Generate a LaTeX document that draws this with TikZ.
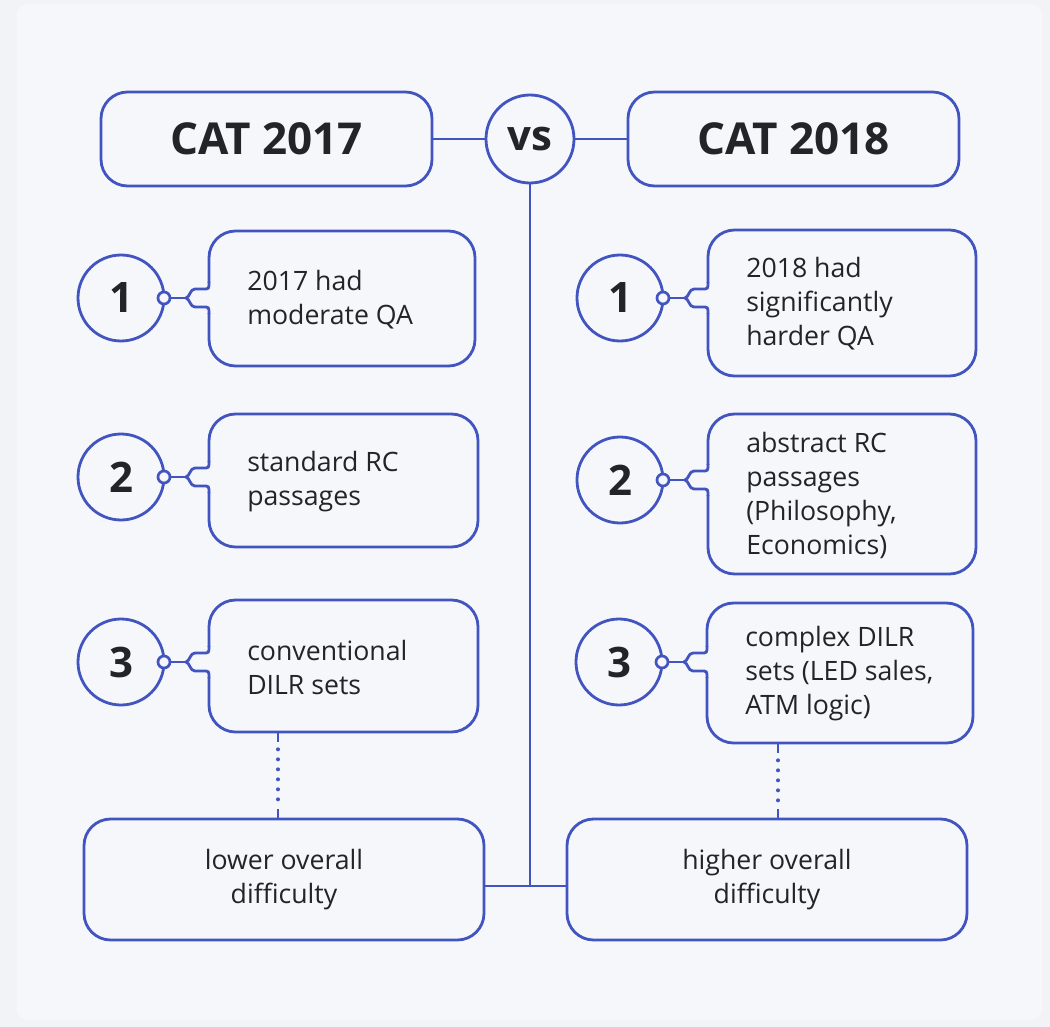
\documentclass[tikz,border=0pt]{standalone}
\usepackage{fontspec}
\setmainfont{Open Sans}
\definecolor{ln}{RGB}{66,84,192}
\definecolor{tx}{RGB}{34,36,42}
\definecolor{bg}{RGB}{241,243,247}
\definecolor{pn}{RGB}{246,247,251}
\newcommand\bodyfont{\fontsize{20pt}{25.5pt}\selectfont}
\newcommand\headfont{\fontsize{33pt}{40pt}\selectfont\bfseries}
\newcommand\numfont{\fontsize{31.5pt}{36pt}\selectfont\bfseries}
% #1 name, #2 cx, #3 cy, #4 digit, #5 L, #6 T, #7 R, #8 B, #9 text
\newcommand\rowitem[9]{%
  \node[numcirc] (#1c) at (#2,#3) {#4};
  \node[itembox, minimum width={0.75pt*(#7-#5)}, minimum height={0.75pt*(#8-#6)}]
    (#1b) at ({(#5+#7)/2},{(#6+#8)/2}) {};
  \fill[pn] ({#5-3},{#3-15}) rectangle ({#5+3},{#3+15});
  \coordinate (#1t) at ({#5-23},#3);
  \draw[conn] (#5,{#3-16}) .. controls (#5,{#3-9}) .. ({#5-6},{#3-9}) -- ({#5-14},{#3-9})
    .. controls ({#5-19},{#3-9}) and ({#5-19},{#3-1}) .. (#1t)
    .. controls ({#5-19},{#3+1}) and ({#5-19},{#3+9}) .. ({#5-14},{#3+9})
    -- ({#5-6},{#3+9}) .. controls (#5,{#3+9}) .. (#5,{#3+16});
  \node[smallc] (#1s) at (#1c.east) {};
  \draw[conn] (#1s) -- (#1t);
  \node[bodytext, anchor=west] (#1x) at ({#5+38},{(#6+#8)/2+1}) {#9};
}
\begin{document}
\begin{tikzpicture}[x=0.75pt,y=-0.75pt,
  conn/.style={draw=ln, line width=2.1pt},
  itembox/.style={draw=ln, line width=2.1pt, fill=pn, rounded corners=20pt, inner sep=0pt, outer sep=0pt},
  headbox/.style={itembox, font=\headfont, text=tx, minimum width={0.75pt*331}, minimum height={0.75pt*94}},
  numcirc/.style={circle, draw=ln, line width=2.1pt, fill=pn, minimum size={0.75pt*86}, inner sep=0pt, outer sep=0pt, font=\numfont, text=tx},
  smallc/.style={circle, draw=ln, line width=2pt, fill=pn, minimum size={0.75pt*12}, inner sep=0pt, outer sep=0pt},
  bodytext/.style={font=\bodyfont, text=tx, align=left, inner sep=0pt},
  centertext/.style={font=\bodyfont, text=tx, align=center, inner sep=0pt},
  dotline/.style={draw=ln, line width=3pt, line cap=round, dash pattern=on 0pt off 7.5pt},
]
\useasboundingbox (0,0) rectangle (1050,1027);
\fill[bg] (0,0) rectangle (1050,1027);
\fill[pn, rounded corners=8pt] (17,4) rectangle (1042,1020);

% headers
\node[headbox] (h1) at (266.5,139) {CAT 2017};
\node[headbox] (h2) at (793.5,139) {CAT 2018};
\node[numcirc, minimum size={0.75pt*88}] (vs) at (530,139) {vs};
\draw[conn] (h1.east) -- (vs.west);
\draw[conn] (vs.east) -- (h2.west);

% left column
\rowitem{l1}{121}{298}{1}{209}{231}{475}{366}{2017 had\\moderate QA}
\rowitem{l2}{121}{477}{2}{209}{414}{478}{547}{standard RC\\passages}
\rowitem{l3}{121}{662}{3}{209}{600}{478}{732}{conventional\\DILR sets}

% right column
\rowitem{r1}{620}{298}{1}{708}{230}{976}{376}{2018 had\\significantly\\harder QA}
\rowitem{r2}{620}{480}{2}{708}{414}{976}{574}{abstract RC\\passages\\(Philosophy,\\Economics)}
\rowitem{r3}{619}{662}{3}{707}{603}{973}{743}{complex DILR\\sets (LED sales,\\ATM logic)}

% bottom boxes
\node[itembox, minimum width={0.75pt*400}, minimum height={0.75pt*121}] (lb) at (284,879.5) {};
\node[centertext] (lbt) at (lb) {lower overall\\difficulty};
\node[itembox, minimum width={0.75pt*400}, minimum height={0.75pt*121}] (rb) at (767,879.5) {};
\node[centertext] (rbt) at (rb) {higher overall\\difficulty};

% dotted connectors
\coordinate (dl) at (278,0);
\coordinate (dr) at (778,0);
\draw[conn] (l3b.south -| dl) -- ++(0,10);
\draw[conn] (lb.north -| dl) -- ++(0,-10);
\draw[dotline, shorten <=13pt, shorten >=13pt] (l3b.south -| dl) -- (lb.north -| dl);
\draw[conn] (r3b.south -| dr) -- ++(0,10);
\draw[conn] (rb.north -| dr) -- ++(0,-10);
\draw[dotline, shorten <=13pt, shorten >=13pt] (r3b.south -| dr) -- (rb.north -| dr);

% central spine
\coordinate (j) at (530,886);
\draw[conn] (vs.south) -- (vs.south |- j);
\draw[conn] (lb.east |- j) -- (rb.west |- j);
\end{tikzpicture}
\end{document}
